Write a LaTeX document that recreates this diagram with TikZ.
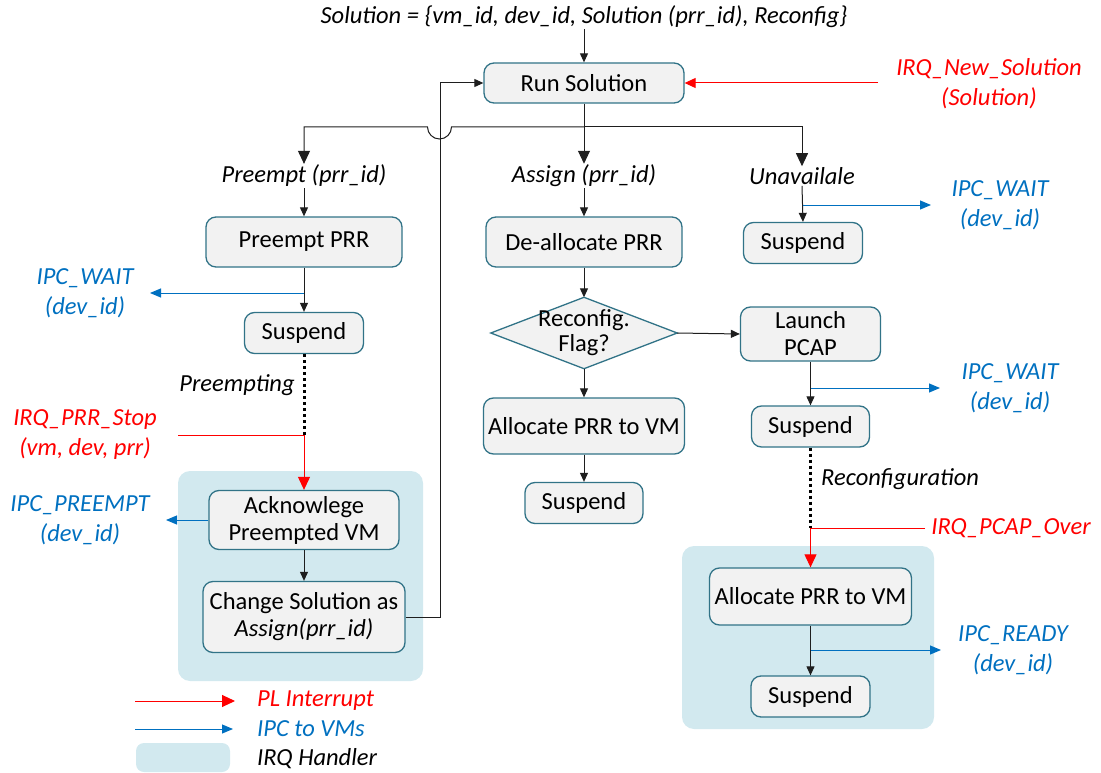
\documentclass[tikz,border=0pt]{standalone}
\usepackage{fontspec}
\setmainfont{Carlito}
\usetikzlibrary{arrows.meta,calc}
\definecolor{boxc}{RGB}{49,115,135}
\definecolor{boxf}{RGB}{242,242,242}
\definecolor{hndf}{RGB}{210,233,239}
\definecolor{irqred}{RGB}{255,0,0}
\definecolor{ipcblue}{RGB}{0,112,192}
\definecolor{linec}{RGB}{30,30,30}
\newcommand\fs{\fontsize{24.5}{29}\selectfont}
\newcommand\fsl{\fontsize{24.5}{30}\selectfont}
\newcommand\fsb{\fontsize{24.5}{27}\selectfont}
\newcommand\fsd{\fontsize{24.5}{25}\selectfont}
\tikzset{
  box/.style={draw=boxc, fill=boxf, rounded corners=10pt, line width=1.3pt, align=center, font=\fs, inner sep=1pt},
  lbl/.style={font=\fs\itshape, inner sep=1pt},
  redlbl/.style={font=\fsl\itshape, text=irqred, align=center, inner sep=1pt},
  bluelbl/.style={font=\fsl\itshape, text=ipcblue, align=center, inner sep=1pt},
  arr/.style={draw=linec, line width=1pt, -{Triangle[length=9pt,width=8pt]}},
  barr/.style={draw=linec, line width=1pt, -{Triangle[length=13pt,width=12pt]}},
  rarr/.style={draw=irqred, line width=1pt, -{Triangle[length=13pt,width=12pt]}},
  rarrs/.style={draw=irqred, line width=1pt, -{Triangle[length=11pt,width=10pt]}},
  bluearr/.style={draw=ipcblue, line width=1pt, -{Triangle[length=11pt,width=9pt]}},
  dots/.style={line width=3pt, dash pattern=on 3pt off 3pt},
  hnd/.style={fill=hndf, rounded corners=12pt},
}
\begin{document}
\begin{tikzpicture}[x=1pt,y=-1pt]
\useasboundingbox (0,0) rectangle (1101,773);
% handler backgrounds
\fill[hnd] (178,471) rectangle (423,681);
\fill[hnd] (682,546) rectangle (934,729);

% top
\node[lbl] (top) at (584,17) {Solution = \{vm\_id, dev\_id, Solution (prr\_id), Reconfig\}};
\node[box, minimum width=200, minimum height=40] (run) at (584,83) {Run Solution};
\node[redlbl] (irqns) at (989,83.5) {IRQ\_New\_Solution\\(Solution)};
\coordinate (ns1) at (878,83);

% branch labels
\node[lbl] (pre) at (304,176) {Preempt (prr\_id)};
\node[lbl] (asg) at (584,176) {Assign (prr\_id)};
\node[lbl] (una) at (802,176) {Unavailale};
\coordinate (jc) at (584,127);

% left column
\node[box, minimum width=196, minimum height=50] (pprr) at (304,242) {Preempt PRR};
\node[box, minimum width=119, minimum height=41] (s1) at (304,333) {Suspend};
\node[bluelbl] (ipcw1) at (85,293) {IPC\_WAIT\\(dev\_id)};
\coordinate (w1e) at (150,293);
\node[lbl, anchor=center] (preing) at (237,385) {Preempting};
\node[redlbl] (irqps) at (85,435) {IRQ\_PRR\_Stop\\(vm, dev, prr)};
\coordinate (ps1) at (178,435);
\coordinate (ps2) at (304,435);
\node[box, minimum width=190, minimum height=59, font=\fsb] (ack) at (304,520) {Acknowlege\\Preempted VM};
\node[bluelbl] (ipcp) at (80,520) {IPC\_PREEMPT\\(dev\_id)};
\coordinate (pe) at (166,520);
\node[box, minimum width=202, minimum height=71, font=\fsb] (chg) at (304,617) {Change Solution as\\\textit{Assign(prr\_id)}};

% middle column
\node[box, minimum width=196, minimum height=50] (dealloc) at (584,242) {De-allocate PRR};
\node[minimum width=186, minimum height=71, inner sep=0] (dia) at (584,333) {};
\draw[draw=boxc, fill=boxf, line width=1.3pt] (dia.north) -- (dia.east) -- (dia.south) -- (dia.west) -- cycle;
\node[align=center, font=\fsd, inner sep=0] (diat) at (dia.center) {Reconfig.\\Flag?};
\node[box, minimum width=201, minimum height=56] (al1) at (584,426) {Allocate PRR to VM};
\node[box, minimum width=118, minimum height=41] (s2) at (584,503) {Suspend};

% right column
\node[box, minimum width=119, minimum height=41] (s3) at (803,243) {Suspend};
\node[bluelbl] (ipcw2) at (1000,205) {IPC\_WAIT\\(dev\_id)};
\coordinate (w2e) at (931,205);
\node[box, minimum width=140, minimum height=54, font=\fsb] (lp) at (810.5,334) {Launch\\PCAP};
\node[box, minimum width=118, minimum height=41] (s4) at (810.5,426.5) {Suspend};
\node[bluelbl] (ipcw3) at (1010,388) {IPC\_WAIT\\(dev\_id)};
\coordinate (w3e) at (940,388);
\node[lbl, anchor=west] (reconf) at (820,479) {Reconfiguration};
\node[redlbl] (irqpo) at (1011,528) {IRQ\_PCAP\_Over};
\coordinate (po1) at (925,528);
\coordinate (po2) at (810.5,528);
\node[box, minimum width=202, minimum height=57] (al2) at (810.5,596.5) {Allocate PRR to VM};
\node[box, minimum width=119, minimum height=41] (s5) at (810.5,696.5) {Suspend};
\node[bluelbl] (ipcr) at (1013,650) {IPC\_READY\\(dev\_id)};
\coordinate (re) at (941,650);

% connectors
\draw[arr] (top.south) -- (run.north);
\draw[rarrs] (ns1) -- (run.east);
\draw[barr] (run.south) -- (asg.north);
\draw[barr] (jc) -- (451.5,127) arc[start angle=0, end angle=180, radius=12] -- (304,127) -- (pre.north);
\draw[barr] (jc) -| (una.north);

\draw[arr] (pre.south) -- (pprr.north);
\draw[arr] (pprr.south) -- (s1.north);
\draw[bluearr] (pprr.south |- w1e) -- (w1e);
\draw[dots] (s1.south) -- (ps2);
\draw[rarr] (ps1) -- (ps2) -- (ack.north);
\draw[bluearr] (ack.west) -- (pe);
\draw[arr] (ack.south) -- (chg.north);
\draw[arr] (chg.east) -- ++(35,0) |- (run.west);

\draw[arr] (asg.south) -- (dealloc.north);
\draw[arr] (dealloc.south) -- (dia.north);
\draw[arr] (dia.east) -- (lp.west);
\draw[arr] (dia.south) -- (al1.north);
\draw[arr] (al1.south) -- (s2.north);

\draw[arr] (una.south) -- (s3.north);
\draw[bluearr] (s3.north |- w2e) -- (w2e);
\draw[arr] (lp.south) -- (s4.north);
\draw[bluearr] (lp.south |- w3e) -- (w3e);
\draw[dots] (s4.south) -- (po2);
\draw[rarr] (po1) -- (po2) -- (al2.north);
\draw[arr] (al2.south) -- (s5.north);
\draw[bluearr] (al2.south |- re) -- (re);

% legend
\coordinate (lr1) at (135,701); \coordinate (lr2) at (235,701);
\coordinate (lb1) at (135,729); \coordinate (lb2) at (233,729);
\draw[rarr] (lr1) -- (lr2);
\draw[bluearr] (lb1) -- (lb2);
\fill[hnd, rounded corners=8pt] (136,743) rectangle (230,772);
\node[lbl, anchor=west, text=irqred] (lgr) at (256,701) {PL Interrupt};
\node[lbl, anchor=west, text=ipcblue] (lgb) at (256,729) {IPC to VMs};
\node[lbl, anchor=west] (lgh) at (256,759) {IRQ Handler};
\end{tikzpicture}
\end{document}
